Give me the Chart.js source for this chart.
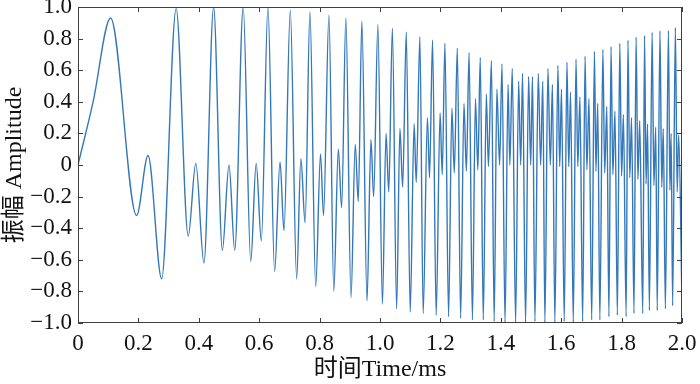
<!DOCTYPE html>
<html lang="zh">
<head>
    <meta charset="UTF-8">
    <title>振幅 Amplitude</title>
    <script src="https://cdn.jsdelivr.net/npm/chart.js"></script>
    <style>
        html, body {
            margin: 0;
            padding: 0;
            background: #fff;
        }
    </style>
</head>
<body>
    <canvas id="signalChart" width="700" height="384"></canvas>

    <script>
        // Extrema (time in ms, amplitude)
        const timeMs = [
            0, 0.05, 0.108, 0.194, 0.232, 0.277,
            0.325, 0.365, 0.390, 0.417,
            0.449, 0.478, 0.500, 0.519,
            0.547, 0.572, 0.590, 0.607,
            0.629, 0.651, 0.669, 0.682,
            0.703, 0.724, 0.738, 0.752,
            0.768, 0.787, 0.803, 0.813,
            0.831, 0.847, 0.862, 0.873,
            0.887, 0.904, 0.918, 0.928,
            0.940, 0.957, 0.970, 0.979,
            0.993, 1.008, 1.020, 1.029,
            1.041, 1.055, 1.066, 1.075,
            1.087, 1.100, 1.113, 1.120,
            1.132, 1.143, 1.157, 1.164,
            1.174, 1.186, 1.199, 1.206,
            1.215, 1.227, 1.238, 1.246,
            1.256, 1.267, 1.278, 1.286,
            1.295, 1.306, 1.316, 1.324,
            1.332, 1.342, 1.352, 1.359,
            1.369, 1.378, 1.387, 1.396,
            1.404, 1.414, 1.424, 1.430,
            1.438, 1.449, 1.459, 1.466,
            1.472, 1.482, 1.492, 1.499,
            1.505, 1.513, 1.524, 1.532,
            1.539, 1.546, 1.556, 1.564,
            1.571, 1.579, 1.589, 1.595,
            1.601, 1.610, 1.619, 1.625,
            1.631, 1.640, 1.649, 1.655,
            1.662, 1.671, 1.679, 1.685,
            1.692, 1.701, 1.710, 1.715,
            1.721, 1.728, 1.738, 1.744,
            1.751, 1.758, 1.765, 1.771,
            1.778, 1.786, 1.794, 1.800,
            1.806, 1.815, 1.821, 1.827,
            1.833, 1.841, 1.848, 1.854,
            1.860, 1.870, 1.876, 1.881,
            1.886, 1.892, 1.901, 1.907,
            1.913, 1.918, 1.927, 1.933,
            1.938, 1.945, 1.955, 1.960,
            1.964, 1.969, 1.978, 1.984,
            1.989, 2.000
        ];
        const amplitude = [
            0, 0.40, 0.93, -0.32, 0.06, -0.72,
            0.99, -0.45, 0.01, -0.62,
            1.00, -0.54, 0.00, -0.54,
            1.00, -0.61, 0.01, -0.48,
            1.00, -0.675, 0.02, -0.415,
            0.98, -0.72, 0.04, -0.365,
            0.97, -0.77, 0.07, -0.32,
            0.95, -0.80, 0.10, -0.27,
            0.93, -0.84, 0.13, -0.23,
            0.91, -0.86, 0.16, -0.20,
            0.89, -0.88, 0.20, -0.17,
            0.865, -0.91, 0.23, -0.14,
            0.84, -0.93, 0.26, -0.11,
            0.81, -0.94, 0.30, -0.08,
            0.79, -0.95, 0.33, -0.06,
            0.77, -0.96, 0.36, -0.05,
            0.74, -0.97, 0.39, -0.04,
            0.71, -0.98, 0.42, -0.03,
            0.68, -0.98, 0.45, -0.01,
            0.66, -0.99, 0.48, 0.00,
            0.64, -1.00, 0.51, 0.00,
            0.61, -1.00, 0.53, 0.00,
            0.58, -1.00, 0.56, 0.00,
            0.56, -0.99, 0.58, 0.00,
            0.53, -1.00, 0.61, 0.00,
            0.51, -1.00, 0.63, -0.01,
            0.48, -0.99, 0.65, -0.01,
            0.46, -1.00, 0.67, -0.01,
            0.43, -0.99, 0.69, -0.03,
            0.42, -0.98, 0.72, -0.04,
            0.39, -0.98, 0.73, -0.05,
            0.37, -0.96, 0.75, -0.06,
            0.34, -0.95, 0.77, -0.07,
            0.32, -0.96, 0.79, -0.08,
            0.30, -0.94, 0.81, -0.09,
            0.28, -0.94, 0.82, -0.12,
            0.26, -0.92, 0.84, -0.13,
            0.24, -0.92, 0.85, -0.14,
            0.23, -0.91, 0.85, -0.16,
            0.20, -0.89, 0.87, -0.17,
            0.19, -0.87
        ];

        const xTickLabels = ['0', '0.2', '0.4', '0.6', '0.8', '1.0', '1.2', '1.4', '1.6', '1.8', '2.0'];
        const yTickLabels = ['\u22121.0', '\u22120.8', '\u22120.6', '\u22120.4', '\u22120.2', '0', '0.2', '0.4', '0.6', '0.8', '1.0'];

        const serif = '"Liberation Serif", "Times New Roman", "Noto Sans CJK SC", serif';

        // box round the plot with inward ticks on all four sides
        const frameTicks = {
            id: 'frameTicks',
            afterDatasetsDraw(chart) {
                const { ctx, chartArea: a, scales: { x, y } } = chart;
                const len = 5;
                ctx.save();
                ctx.strokeStyle = '#404040';
                ctx.lineWidth = 1;
                ctx.beginPath();
                x.ticks.forEach(t => {
                    const px = Math.round(x.getPixelForValue(t.value)) + 0.5;
                    ctx.moveTo(px, a.bottom); ctx.lineTo(px, a.bottom - len);
                    ctx.moveTo(px, a.top); ctx.lineTo(px, a.top + len);
                });
                y.ticks.forEach(t => {
                    const py = Math.round(y.getPixelForValue(t.value)) + 0.5;
                    ctx.moveTo(a.left, py); ctx.lineTo(a.left + len, py);
                    ctx.moveTo(a.right, py); ctx.lineTo(a.right - len, py);
                });
                ctx.stroke();
                ctx.strokeRect(Math.round(a.left) + 0.5, Math.round(a.top) + 0.5,
                    Math.round(a.width) - 1, Math.round(a.height) - 1);
                ctx.restore();
            }
        };

        new Chart(document.getElementById('signalChart'), {
            type: 'line',
            data: {
                datasets: [{
                    data: timeMs.map((t, i) => ({ x: t, y: amplitude[i] })),
                    borderColor: '#3478ba',
                    borderWidth: 1.4,
                    pointRadius: 0,
                    fill: false,
                    cubicInterpolationMode: 'monotone'
                }]
            },
            options: {
                responsive: false,
                animation: false,
                devicePixelRatio: 1,
                layout: { padding: { top: 7, right: 18, bottom: 0, left: 0 } },
                plugins: {
                    legend: { display: false },
                    tooltip: { enabled: false }
                },
                scales: {
                    x: {
                        type: 'linear',
                        min: 0,
                        max: 2,
                        grid: { display: false, drawTicks: false },
                        border: { display: false },
                        ticks: {
                            stepSize: 0.2,
                            padding: 7,
                            color: '#111',
                            font: { family: serif, size: 23 },
                            maxRotation: 0,
                            autoSkip: false,
                            callback: (v, i) => xTickLabels[i]
                        },
                        title: {
                            display: true,
                            text: '时间Time/ms',
                            color: '#111',
                            font: { family: serif, size: 24 },
                            padding: { top: 0, bottom: 0 }
                        },
                        afterFit: s => {
                            s.height = 61;
                            s.paddingLeft = 0;
                            s.paddingRight = 0;
                        }
                    },
                    y: {
                        min: -1,
                        max: 1,
                        grid: { display: false, drawTicks: false },
                        border: { display: false },
                        ticks: {
                            stepSize: 0.2,
                            padding: 6,
                            color: '#111',
                            font: { family: serif, size: 23 },
                            autoSkip: false,
                            callback: (v, i) => yTickLabels[i]
                        },
                        title: {
                            display: true,
                            text: '振幅 Amplitude',
                            color: '#111',
                            font: { family: serif, size: 24 },
                            padding: { top: 0, bottom: 0 }
                        },
                        afterFit: s => {
                            s.width = 78;
                            s.paddingTop = 0;
                            s.paddingBottom = 0;
                        }
                    }
                }
            },
            plugins: [frameTicks]
        });
    </script>
</body>
</html>
